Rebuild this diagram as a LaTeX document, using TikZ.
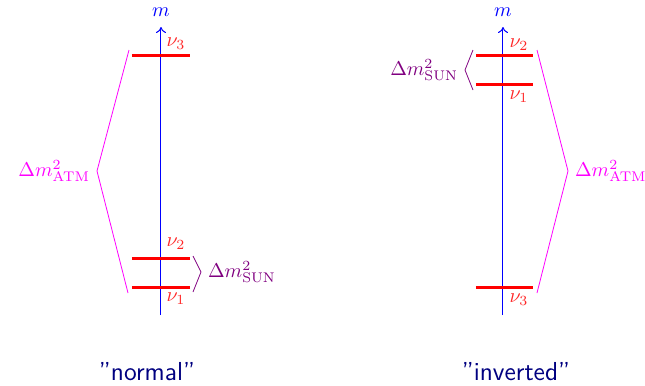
\documentclass[tikz,border=0pt]{standalone}
\usetikzlibrary{positioning,arrows.meta}
\definecolor{sunviolet}{RGB}{128,0,128}
\definecolor{atmmagenta}{RGB}{255,0,255}
\definecolor{titleblue}{RGB}{0,0,128}
\tikzset{
  massaxis/.style={draw=blue, line width=0.5pt, -{To[length=3pt,width=5pt]}},
  level/.style={red, line width=1.5pt},
  nulabel/.style={text=red!85!white, inner sep=0pt},
  atmbracket/.style={atmmagenta},
  sunbracket/.style={sunviolet},
  hierarchy/.style={text=titleblue, inner sep=0pt, font=\sffamily\fontsize{13}{15}\selectfont},
}
\begin{document}
\begin{tikzpicture}[x=0.5pt, y=-0.5pt]
  \useasboundingbox (0,0) rectangle (645,386);

  % Hierarquia normal
  \coordinate (nbot) at (161,315);
  \coordinate (ntop) at (161,27);
  \draw[massaxis] (nbot) -- (ntop);
  \node[blue, inner sep=0pt] (nm) at (161,12) {$m$};

  \coordinate (n3l) at (132,55);  \coordinate (n3r) at (190,55);
  \coordinate (n2l) at (132,258); \coordinate (n2r) at (190,258);
  \coordinate (n1l) at (132,287); \coordinate (n1r) at (190,287);
  \draw[level] (n3l) -- (n3r);
  \draw[level] (n2l) -- (n2r);
  \draw[level] (n1l) -- (n1r);
  \node[nulabel] (nnu3) at (176,44) {$\nu_3$};
  \node[nulabel] (nnu2) at (176,244) {$\nu_2$};
  \node[nulabel] (nnu1) at (176,299) {$\nu_1$};

  \coordinate (natma) at (129,50);
  \coordinate (natmb) at (97,171);
  \coordinate (natmc) at (128,293);
  \draw[atmbracket] (natma) -- (natmb) -- (natmc);
  \node[left, text=atmmagenta] (natm) at (natmb) {$\Delta m^2_{\mathrm{ATM}}$};

  \coordinate (nsuna) at (193,256);
  \coordinate (nsunb) at (201,272);
  \coordinate (nsunc) at (193,292);
  \draw[sunbracket] (nsuna) -- (nsunb) -- (nsunc);
  \node[right, text=sunviolet] (nsun) at (nsunb) {$\Delta m^2_{\mathrm{SUN}}$};

  \node[hierarchy] (normal) at (147,372) {''normal''};

  % Hierarquia invertida
  \coordinate (ibot) at (503,315);
  \coordinate (itop) at (503,27);
  \draw[massaxis] (ibot) -- (itop);
  \node[blue, inner sep=0pt] (im) at (503,12) {$m$};

  \coordinate (i2l) at (476,55);  \coordinate (i2r) at (533,55);
  \coordinate (i1l) at (476,84);  \coordinate (i1r) at (533,84);
  \coordinate (i3l) at (476,287); \coordinate (i3r) at (533,287);
  \draw[level] (i2l) -- (i2r);
  \draw[level] (i1l) -- (i1r);
  \draw[level] (i3l) -- (i3r);
  \node[nulabel] (inu2) at (519,45) {$\nu_2$};
  \node[nulabel] (inu1) at (519,97) {$\nu_1$};
  \node[nulabel] (inu3) at (519,300) {$\nu_3$};

  \coordinate (isuna) at (473,50);
  \coordinate (isunb) at (465,70);
  \coordinate (isunc) at (473,90);
  \draw[sunbracket] (isuna) -- (isunb) -- (isunc);
  \node[left, text=sunviolet] (isun) at (isunb) {$\Delta m^2_{\mathrm{SUN}}$};

  \coordinate (iatma) at (537,50);
  \coordinate (iatmb) at (568,171);
  \coordinate (iatmc) at (537,293);
  \draw[atmbracket] (iatma) -- (iatmb) -- (iatmc);
  \node[right, text=atmmagenta] (iatm) at (iatmb) {$\Delta m^2_{\mathrm{ATM}}$};

  \node[hierarchy] (inverted) at (516,372) {''inverted''};
\end{tikzpicture}
\end{document}
